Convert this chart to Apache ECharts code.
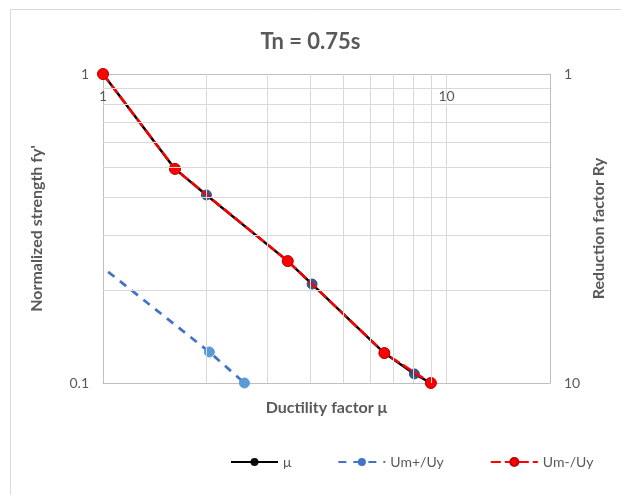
<!DOCTYPE html>
<html>
<head>
<meta charset="utf-8">
<script src="https://cdn.jsdelivr.net/npm/echarts@6/dist/echarts.min.js"></script>
<style>
  html, body { margin: 0; padding: 0; background: #fff; }
  #chart { width: 621px; height: 495px; }
</style>
</head>
<body>
<div id="chart"></div>
<script>
// Ductility (μ) vs normalized strength, Tn = 0.75 s
const muX = [1, 1.62, 2.0, 3.45, 4.06, 6.59, 8.06, 9.0];
const muY = [1, 0.493, 0.406, 0.248, 0.209, 0.125, 0.107, 0.1];

const umPlusX = [1.035, 2.04, 2.58];
const umPlusY = [0.229, 0.126, 0.1];

const umMinusX = [1, 1.62, 3.45, 6.59, 9.0];
const umMinusY = [1, 0.493, 0.248, 0.125, 0.1];

const xMinorGrid = [2, 3, 4, 5, 6, 7, 8, 9, 10];
const yMinorGrid = [0.2, 0.3, 0.4, 0.5, 0.6, 0.7, 0.8, 0.9];

const xTickLabels = [1, 10];
const yTickLabels = [0.1, 1];
const ryTickLabels = [1, 10];

const FONT = 'Lato, "Open Sans", sans-serif';
const TXT = '#595959';
const pairs = (xs, ys) => xs.map((x, i) => [x, ys[i]]);

const chart = echarts.init(document.getElementById('chart'), null, { renderer: 'canvas' });

const gridLines = [
  ...xMinorGrid.map(v => ({ xAxis: v })),
  ...yMinorGrid.map(v => ({ yAxis: v }))
];

chart.setOption({
  backgroundColor: '#fff',
  animation: false,
  textStyle: { fontFamily: FONT },
  title: {
    text: 'Tn = 0.75s',
    left: 'center',
    top: 26,
    textStyle: { fontFamily: FONT, fontSize: 22, fontWeight: 'bold', color: TXT }
  },
  graphic: [{
    type: 'rect',
    silent: true,
    shape: { x: 10.5, y: 9.5, width: 700, height: 600 },
    style: { fill: 'none', stroke: '#d9d9d9', lineWidth: 1 }
  }],
  grid: { left: 103, right: 71, top: 74, bottom: 112 },
  legend: {
    bottom: 26,
    left: 230,
    padding: 0,
    itemWidth: 47,
    itemHeight: 10,
    itemGap: 46,
    textStyle: { fontFamily: FONT, fontSize: 14, color: TXT },
    data: [
      { name: 'μ', itemStyle: { color: '#000', borderColor: '#000' } },
      { name: 'Um+/Uy', itemStyle: { color: '#4472C4', borderColor: '#4472C4' } },
      { name: 'Um-/Uy' }
    ]
  },
  xAxis: [{
    type: 'log', logBase: 10, min: 1, max: 20,
    position: 'top',
    axisLine: { show: true, lineStyle: { color: '#bfbfbf', width: 1 } },
    axisTick: { show: false },
    splitLine: { show: false },
    axisLabel: {
      inside: true, margin: 15, fontSize: 14, color: TXT, fontFamily: FONT,
      formatter: v => (xTickLabels.includes(Math.round(v * 1000) / 1000) ? String(Math.round(v)) : '')
    }
  }, {
    type: 'log', logBase: 10, min: 1, max: 20,
    position: 'bottom',
    axisLine: { show: true, lineStyle: { color: '#bfbfbf', width: 1 } },
    axisTick: { show: false },
    splitLine: { show: false },
    axisLabel: { show: false },
    name: 'Ductility factor μ',
    nameLocation: 'middle',
    nameGap: 17,
    nameTextStyle: { fontFamily: FONT, fontSize: 16, fontWeight: 'bold', color: TXT }
  }],
  yAxis: [{
    type: 'log', logBase: 10, min: 0.1, max: 1,
    position: 'left',
    axisLine: { show: true, lineStyle: { color: '#bfbfbf', width: 1 } },
    axisTick: { show: false },
    splitLine: { show: false },
    axisLabel: {
      margin: 14, fontSize: 14, color: TXT, fontFamily: FONT,
      formatter: v => {
        const r = Math.round(v * 1000) / 1000;
        return yTickLabels.includes(r) ? String(r) : '';
      }
    },
    name: "Normalized strength fy'",
    nameLocation: 'middle',
    nameGap: 58,
    nameRotate: 90,
    nameTextStyle: { fontFamily: FONT, fontSize: 16, fontWeight: 'bold', color: TXT }
  }, {
    type: 'log', logBase: 10, min: 1, max: 10,
    inverse: true,
    position: 'right',
    axisLine: { show: true, lineStyle: { color: '#bfbfbf', width: 1 } },
    axisTick: { show: false },
    splitLine: { show: false },
    axisLabel: {
      margin: 14, fontSize: 14, color: TXT, fontFamily: FONT,
      formatter: v => {
        const r = Math.round(v * 1000) / 1000;
        return ryTickLabels.includes(r) ? String(r) : '';
      }
    },
    name: 'Reduction factor Ry',
    nameLocation: 'middle',
    nameGap: 40,
    nameRotate: 90,
    nameTextStyle: { fontFamily: FONT, fontSize: 16, fontWeight: 'bold', color: TXT }
  }],
  series: [{
    name: 'gridlines',
    type: 'line',
    xAxisIndex: 0, yAxisIndex: 0,
    data: [],
    silent: true,
    z: 1,
    markLine: {
      silent: true,
      symbol: 'none',
      label: { show: false },
      lineStyle: { color: '#d9d9d9', width: 1, type: 'solid' },
      data: gridLines
    }
  }, {
    name: 'μ',
    type: 'line',
    xAxisIndex: 0, yAxisIndex: 0,
    data: pairs(muX, muY),
    z: 3,
    symbol: 'circle',
    symbolSize: 10,
    itemStyle: { color: '#2F4D80', borderColor: '#2F4D80', opacity: 0.95 },
    lineStyle: { color: '#000', width: 2.5 }
  }, {
    name: 'Um+/Uy',
    type: 'line',
    xAxisIndex: 0, yAxisIndex: 0,
    data: pairs(umPlusX, umPlusY).map((p, i) => (i === 0 ? { value: p, symbol: 'none' } : { value: p })),
    z: 3,
    symbol: 'circle',
    symbolSize: 10,
    itemStyle: { color: '#5B9BD5', borderColor: '#5B9BD5' },
    lineStyle: { color: '#4472C4', width: 2.75, type: [8, 7] }
  }, {
    name: 'Um-/Uy',
    type: 'line',
    xAxisIndex: 0, yAxisIndex: 0,
    data: pairs(umMinusX, umMinusY),
    z: 4,
    symbol: 'circle',
    symbolSize: 11,
    itemStyle: { color: '#FF0000', borderColor: '#C00000', borderWidth: 1 },
    lineStyle: { color: '#FF0000', width: 2.5, type: [10, 4] }
  }]
});
</script>
</body>
</html>
